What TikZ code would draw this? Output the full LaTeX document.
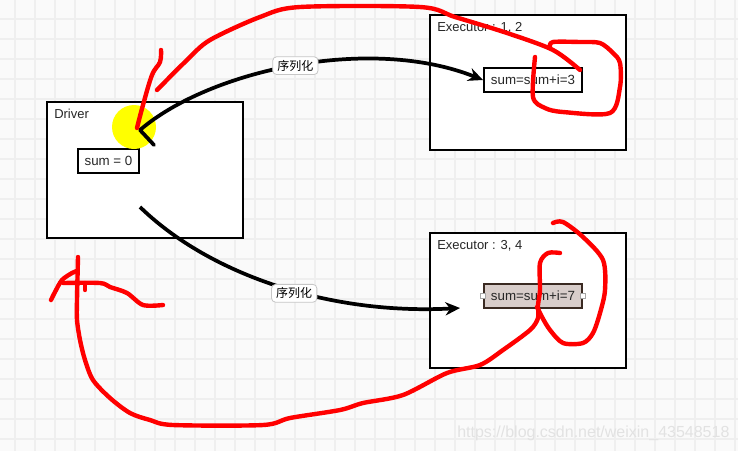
\documentclass[tikz,border=0pt]{standalone}
\usepackage{fontspec}
\setmainfont{Liberation Sans}
\newfontfamily\cjk{Noto Sans CJK SC}
\usetikzlibrary{arrows.meta,positioning}
\definecolor{paper}{HTML}{FAFAFA}
\definecolor{gridgray}{HTML}{EFEFEF}
\definecolor{inkred}{HTML}{FF0000}
\definecolor{hilite}{HTML}{FFFF00}
\definecolor{cellfill}{HTML}{D8CDCA}
\definecolor{celledge}{HTML}{3A2A22}
\definecolor{marktext}{HTML}{E2E2E2}
\tikzset{
  panel style/.style={rectangle, draw, line width=1.8pt, fill=white,
    minimum width=147pt, minimum height=101.5pt, inner sep=0pt},
  cell style/.style={rectangle, draw, line width=1.5pt, fill=white, minimum height=18pt,
    inner sep=0pt, font=\fontsize{10pt}{12pt}\selectfont, text=black!85},
  title style/.style={anchor=base west, inner sep=0pt, font=\fontsize{9.75pt}{12pt}\selectfont, text=black!85},
  tag style/.style={rectangle, rounded corners=3pt, draw=gray!45, fill=white, line width=0.6pt,
    inner xsep=3.5pt, inner ysep=2.5pt, font=\cjk\fontsize{9pt}{10pt}\selectfont},
  flow style/.style={-{Stealth[length=11pt,width=10pt]}, line width=2.8pt},
  ink style/.style={inkred, line width=3.3pt, line cap=round, line join=round},
  handle style/.style={rectangle, draw=gray!70, fill=white, line width=0.4pt, minimum size=3.5pt, inner sep=0pt}
}
\begin{document}
\begin{tikzpicture}[x=0.75pt,y=-0.75pt]
\useasboundingbox (0,0) rectangle (738,451);
\fill[paper] (0,0) rectangle (738,451);
\foreach \gx in {15,35,...,735} \draw[gridgray, line width=0.9pt] (\gx,0) -- (\gx,451);
\foreach \gy in {19,39,...,439} \draw[gridgray, line width=0.9pt] (0,\gy) -- (738,\gy);
% boxes
\node[panel style, minimum height=102pt] (driver) at (145,170) {};
\node[panel style] (exec1) at (528,82.5) {};
\node[panel style] (exec2) at (528,300.5) {};
\node[title style] (driver title) at (54,118) {Driver};
\node[title style] (exec1 title) at (437,31) {Executor : 1, 2};
\node[title style] (exec2 title) at (437,249) {Executor : 3, 4};
\node[cell style, minimum width=45.75pt] (sum0) at (108.5,161) {sum = 0};
\node[cell style, minimum width=73.5pt] (sum3) at (533,80) {sum=sum+i=3};
\node[cell style, minimum width=73.5pt, fill=cellfill, draw=celledge] (sum7) at (533,296) {sum=sum+i=7};
\node[handle style] (sum7 left) at (sum7.west) {};
\node[handle style] (sum7 right) at (sum7.east) {};
\fill[hilite] (134,127) circle (16.5pt);
% flows
\coordinate (src1) at (140,130);
\coordinate (stub end) at (154,145);
\coordinate (src2) at (140,207);
\coordinate (hit2) at (460,308);
\draw[flow style] (src1) .. controls (210,70) and (370,35) .. (sum3.west) node[tag style, pos=0.5] (tag1) {序列化};
\draw[line width=2.8pt, line cap=round] (src1) -- (stub end);
\draw[flow style] (src2) .. controls (210,275) and (330,315) .. (hit2) node[tag style, pos=0.55, yshift=-2pt] (tag2) {序列化};
% red marks
\draw[ink style] plot[smooth, tension=0.6] coordinates {(137,128) (143,105) (152,75) (160,62) (161,50)};
\draw[ink style] plot[smooth] coordinates {(157,90) (187,60) (210,40) (260,17) (300,7) (420,7) (455,17) (507,33) (553,50) (580,70)};
\draw[ink style] plot[smooth] coordinates {(535,57) (533,97) (545,108) (563,112) (610,113) (620,87) (620,63) (613,53) (600,43) (580,42) (553,42) (550,47)};
\draw[ink style] plot[smooth] coordinates {(78,257) (77,300) (77,320) (80,340) (85,360) (93,380) (110,398) (130,413) (150,420) (173,425) (263,425) (290,418) (340,410) (363,403) (403,395) (447,373) (480,365) (503,350) (530,330) (538,318) (538,305) (540,290) (540,263) (548,253) (560,253)};
\draw[ink style] plot[smooth] coordinates {(553,223) (563,222) (583,237) (603,260) (605,290) (600,313) (593,333) (583,343) (563,343) (550,330) (542,317) (537,307)};
\draw[ink style] plot[smooth, tension=0.5] coordinates {(63,283) (100,283) (110,287) (127,293) (143,305) (163,305)};
\draw[ink style] (85,283) -- (85,290);
\draw[ink style] plot[smooth] coordinates {(51,300) (55,292) (62,280) (72,273) (77,271)};
% watermark
\node[anchor=base west, inner sep=0pt, text=marktext, font=\fontsize{12pt}{14pt}\selectfont] (mark) at (457,437) {https://blog.csdn.net/weixin\_43548518};
\end{tikzpicture}
\end{document}
